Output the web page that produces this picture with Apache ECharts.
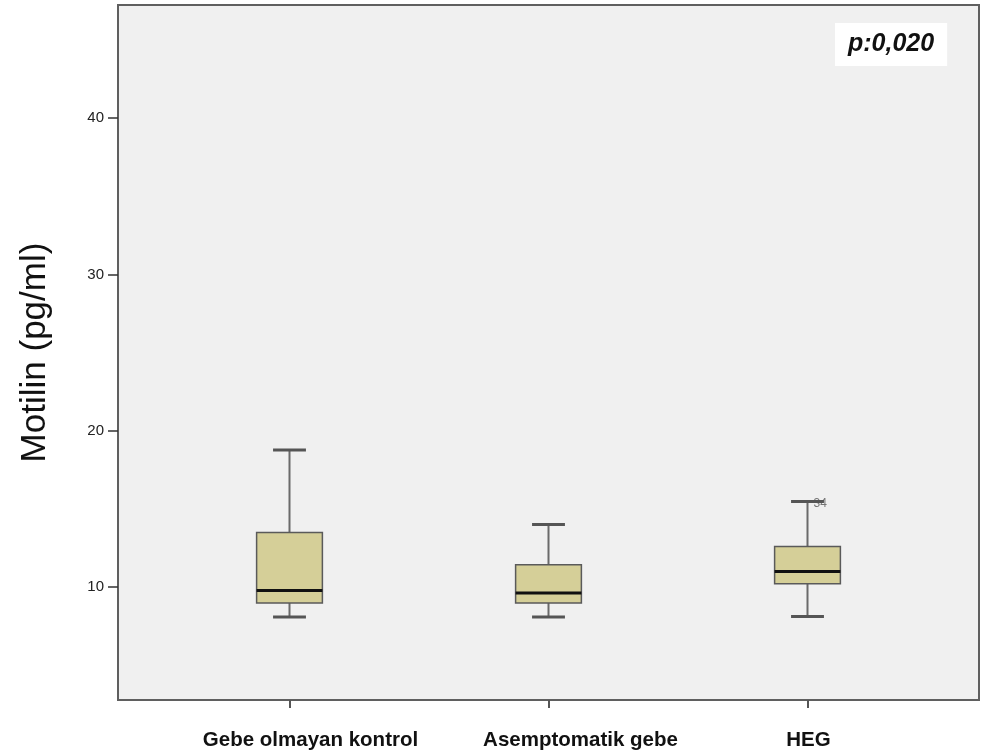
<!DOCTYPE html>
<html>
<head>
<meta charset="utf-8">
<script src="https://cdn.jsdelivr.net/npm/echarts@6/dist/echarts.min.js"></script>
<style>
  html, body { margin: 0; padding: 0; background: #ffffff; }
  #chart { width: 987px; height: 756px; }
</style>
</head>
<body>
<div id="chart"></div>
<script>
// Motilin (pg/ml) by group: five-number summaries per box
const categories = ['Gebe olmayan kontrol', 'Asemptomatik gebe', 'HEG'];
const whiskerLow = [8.06, 8.06, 8.10];
const quartile1 = [8.96, 8.96, 10.19];
const medians = [9.76, 9.60, 10.98];
const quartile3 = [13.47, 11.41, 12.58];
const whiskerHigh = [18.76, 13.99, 15.46];

// Labelled case at the top of the HEG whisker
const outlierGroups = ['HEG'];
const outlierValues = [15.46];
const outlierCases = ['34'];

const yTicks = [10, 20, 30, 40];
const yMin = 2.75;
const yMax = 47.25;
const pValueText = 'p:0,020';

const boxData = categories.map((c, i) => [i, whiskerLow[i], quartile1[i], medians[i], quartile3[i], whiskerHigh[i]]);
const outlierData = outlierGroups.map((g, k) => ({
  value: [categories.indexOf(g), outlierValues[k]],
  caseId: outlierCases[k]
}));

// Category labels sit a little right of their ticks; left padding nudges each one
const labelStyleNames = ['c0', 'c1', 'c2'];
const labelFont = {
  fontFamily: 'Liberation Sans, Arial, sans-serif',
  fontSize: 20.5,
  fontWeight: 'bold',
  color: '#111111'
};
const labelRich = {
  c0: Object.assign({ padding: [0, 0, 0, 42] }, labelFont),
  c1: Object.assign({ padding: [0, 0, 0, 64] }, labelFont),
  c2: Object.assign({ padding: [0, 0, 0, 2] }, labelFont)
};

const chart = echarts.init(document.getElementById('chart'), null, { renderer: 'canvas' });

function renderBox(params, api) {
  const band = api.size([1, 0])[0];
  const boxW = band * 0.254;
  const capW = band * 0.127;
  const pLow = api.coord([api.value(0), api.value(1)]);
  const pQ1 = api.coord([api.value(0), api.value(2)]);
  const pMed = api.coord([api.value(0), api.value(3)]);
  const pQ3 = api.coord([api.value(0), api.value(4)]);
  const pHigh = api.coord([api.value(0), api.value(5)]);
  const cx = pLow[0];
  const whisker = { stroke: '#6a6a6a', lineWidth: 2 };
  const cap = { stroke: '#555555', lineWidth: 3 };
  return {
    type: 'group',
    children: [
      { type: 'line', shape: { x1: cx, y1: pHigh[1], x2: cx, y2: pQ3[1] }, style: whisker },
      { type: 'line', shape: { x1: cx, y1: pQ1[1], x2: cx, y2: pLow[1] }, style: whisker },
      { type: 'line', shape: { x1: cx - capW / 2, y1: pHigh[1], x2: cx + capW / 2, y2: pHigh[1] }, style: cap },
      { type: 'line', shape: { x1: cx - capW / 2, y1: pLow[1], x2: cx + capW / 2, y2: pLow[1] }, style: cap },
      {
        type: 'rect',
        shape: { x: cx - boxW / 2, y: pQ3[1], width: boxW, height: pQ1[1] - pQ3[1] },
        style: { fill: '#D5CF98', stroke: '#5a5a5a', lineWidth: 1.5 }
      },
      { type: 'line', shape: { x1: cx - boxW / 2, y1: pMed[1], x2: cx + boxW / 2, y2: pMed[1] }, style: { stroke: '#111111', lineWidth: 3 } }
    ]
  };
}

const option = {
  backgroundColor: '#ffffff',
  animation: false,
  title: {
    text: pValueText,
    left: 835,
    top: 23,
    padding: [9, 13, 9, 13],
    backgroundColor: '#ffffff',
    textStyle: {
      fontFamily: 'Liberation Sans, Arial, sans-serif',
      fontSize: 25,
      fontWeight: 'bold',
      fontStyle: 'italic',
      color: '#111111'
    }
  },
  grid: [
    // plot frame with value axis
    { left: 118, right: 8, top: 5, bottom: 56, show: true, backgroundColor: '#F0F0F0', borderColor: '#5f5f5f', borderWidth: 2 },
    // category band for the boxes
    { left: 160, right: 50, top: 5, bottom: 56, show: false }
  ],
  xAxis: [
    { type: 'value', gridIndex: 0, show: false, min: 0, max: 1 },
    {
      type: 'category',
      gridIndex: 1,
      data: categories,
      boundaryGap: true,
      axisLine: { show: false },
      axisTick: { show: true, alignWithLabel: true, interval: 0, length: 8, lineStyle: { color: '#555555', width: 2 } },
      axisLabel: Object.assign({
        interval: 0,
        hideOverlap: false,
        margin: 30,
        formatter: (value, index) => '{' + labelStyleNames[index] + '|' + value + '}',
        rich: labelRich
      }, labelFont),
      splitLine: { show: false }
    }
  ],
  yAxis: [
    {
      type: 'value',
      gridIndex: 0,
      min: yMin,
      max: yMax,
      name: 'Motilin (pg/ml)',
      nameLocation: 'middle',
      nameGap: 65,
      nameTextStyle: {
        fontFamily: 'Liberation Sans, Arial, sans-serif',
        fontSize: 35,
        color: '#111111'
      },
      axisLine: { show: false },
      axisTick: { show: true, customValues: yTicks, length: 10, lineStyle: { color: '#333333', width: 1.5 } },
      axisLabel: {
        customValues: yTicks,
        margin: 14,
        fontFamily: 'Liberation Sans, Arial, sans-serif',
        fontSize: 15,
        color: '#222222'
      },
      splitLine: { show: false }
    },
    { type: 'value', gridIndex: 1, min: yMin, max: yMax, show: false }
  ],
  series: [
    {
      type: 'custom',
      xAxisIndex: 1,
      yAxisIndex: 1,
      renderItem: renderBox,
      encode: { x: 0, y: [1, 2, 3, 4, 5] },
      data: boxData,
      z: 3
    },
    {
      type: 'scatter',
      xAxisIndex: 1,
      yAxisIndex: 1,
      symbolSize: 0,
      data: outlierData,
      z: 4,
      label: {
        show: true,
        position: 'right',
        distance: 6,
        offset: [0, 2],
        formatter: p => p.data.caseId,
        fontFamily: 'Liberation Sans, Arial, sans-serif',
        fontSize: 12,
        color: '#555555'
      }
    }
  ]
};

chart.setOption(option);
</script>
</body>
</html>
